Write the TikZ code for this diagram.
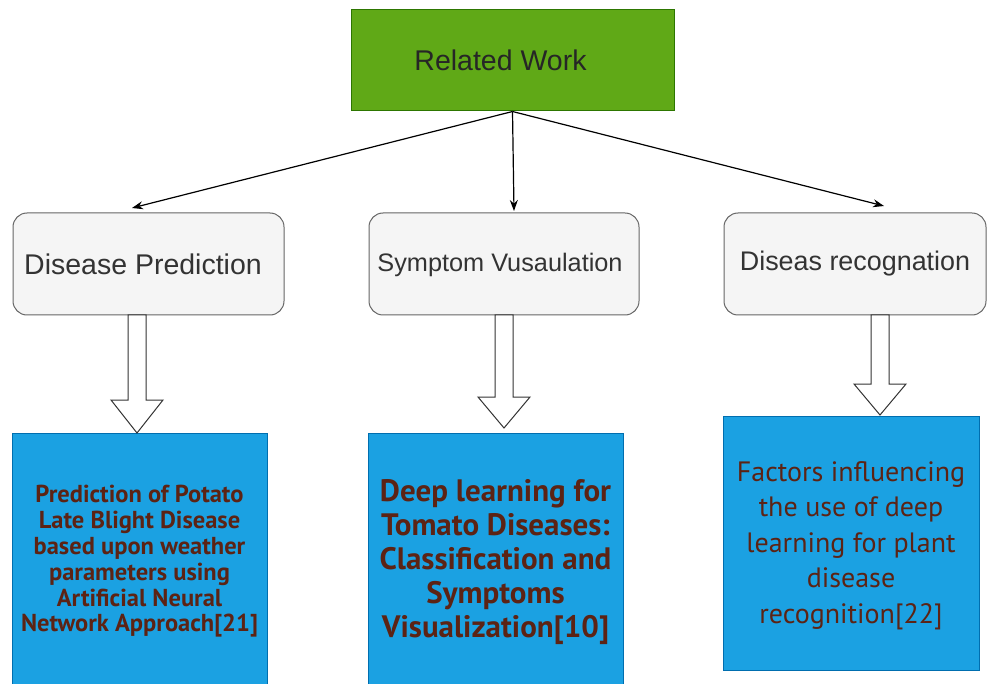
\documentclass[tikz,border=0pt]{standalone}
\usepackage{fontspec}
\setmainfont{Liberation Sans}
\newfontfamily\gillfont{PT Sans}
\usetikzlibrary{arrows.meta,calc}

\definecolor{rwgreen}{HTML}{60A917}
\definecolor{rwgreenline}{HTML}{2D7600}
\definecolor{topicfill}{HTML}{F5F5F5}
\definecolor{topicline}{HTML}{666666}
\definecolor{topictext}{HTML}{333333}
\definecolor{paperblue}{HTML}{1BA1E2}
\definecolor{paperline}{HTML}{006EAF}
\definecolor{papertext}{RGB}{92,35,20}

\begin{document}
\begin{tikzpicture}[x = 1pt, y = -1pt,
  topic/.style = {draw = topicline, fill = topicfill, rounded corners = 14pt,
    line width = 1pt, inner sep = 0pt, outer sep = 0pt, minimum height = 102pt},
  topictxt/.style = {text = topictext, inner sep = 0pt},
  paper/.style = {draw = paperline, fill = paperblue, line width = 1pt, inner sep = 0pt, outer sep = 0pt},
  papertxt/.style = {text = papertext, align = center, inner sep = 0pt},
  link/.style = {-{Stealth[length = 11pt, width = 8pt]}, line width = 1.2pt},
  hollow/.style = {draw = black!80, fill = white, line width = 1pt, line join = miter}]
\useasboundingbox (0,0) rectangle (987,684);

% root
\node [draw = rwgreenline, fill = rwgreen, line width = 1pt, minimum width = 323pt, minimum height = 101pt,
  inner sep = 0pt] (rw) at (512.5,60.5) {};
\node [font = \fontsize{28.5}{32}\selectfont, text = black!85, inner sep = 0pt] (rwtxt) at ([xshift = -12pt]rw.center) {Related Work};

% topics
\node [topic, minimum width = 271pt] (dp) at (148.5,264) {};
\node [topictxt, font = \fontsize{28.5}{32}\selectfont] (dptxt) at ([xshift = -5.5pt]dp.center) {Disease Prediction};
\node [topic, minimum width = 270pt] (sv) at (504,264) {};
\node [topictxt, font = \fontsize{25.3}{28}\selectfont] (svtxt) at ([xshift = -4pt, yshift = -1pt]sv.center) {Symptom Vusaulation};
\node [topic, minimum width = 262pt] (dr) at (855,264) {};
\node [topictxt, font = \fontsize{26.9}{30}\selectfont] (drtxt) at (dr.center) {Diseas recognation};

% papers
\node [paper, minimum width = 255pt, minimum height = 251pt] (pl) at (139.5,558.5) {};
\node [papertxt, font = \gillfont\bfseries\fontsize{24.5}{25.8}\selectfont] (pltxt) at (139.5,561.5)
  {Prediction of Potato\\Late Blight Disease\\based upon weather\\parameters using\\Artificial Neural\\Network Approach[21]};
\node [paper, minimum width = 255pt, minimum height = 251pt] (tm) at (495.5,558.5) {};
\node [papertxt, font = \gillfont\bfseries\fontsize{31}{34}\selectfont] (tmtxt) at (495.5,562)
  {Deep learning for\\Tomato Diseases:\\Classification and\\Symptoms\\Visualization[10]};
\node [paper, minimum width = 256pt, minimum height = 254pt] (pf) at (851,543) {};
\node [papertxt, font = \gillfont\fontsize{28}{35.5}\selectfont] (pftxt) at (851,545.5)
  {Factors influencing\\the use of deep\\learning for plant\\disease\\recognition[22]};

% links from the root
\coordinate (dpin) at (132,208);
\coordinate (svin) at (514,211);
\coordinate (drin) at (884,206);
\draw [link] (rw.south) -- (dpin);
\draw [link] (rw.south) -- (svin);
\draw [link] (rw.south) -- (drin);

% block arrows down to the papers
\foreach \cx/\src/\dst/\gap/\head in {137/dp/pl/0/33, 504/sv/tm/5/31, 880/dr/pf/1/31}
  \draw [hollow] let \p1 = (\src.south), \p2 = (\dst.north) in
    ({\cx-9},\y1) -- ({\cx-9},\y2+\gap pt+\head pt) -- ({\cx-26},\y2+\gap pt+\head pt)
    -- ({\cx},\y2+\gap pt) -- ({\cx+26},\y2+\gap pt+\head pt) -- ({\cx+9},\y2+\gap pt+\head pt)
    -- ({\cx+9},\y1) -- cycle;
\end{tikzpicture}
\end{document}
